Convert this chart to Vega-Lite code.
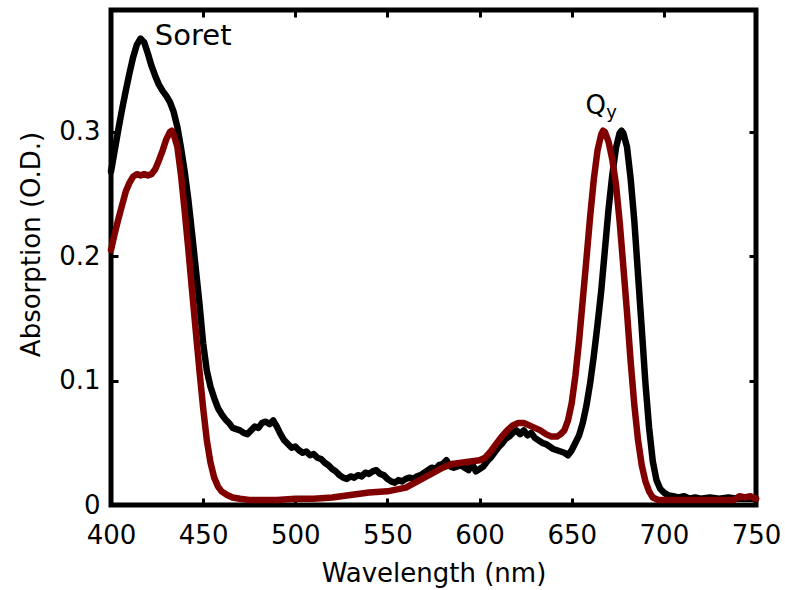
{
  "$schema": "https://vega.github.io/schema/vega-lite/v6.json",
  "width": 645,
  "height": 495,
  "autosize": {"type": "none"},
  "padding": {"left": 111, "top": 10, "right": 29, "bottom": 85},
  "background": "white",
  "config": {
    "view": {"stroke": "black", "strokeWidth": 5},
    "font": "DejaVu Sans",
    "axis": {"grid": false, "domain": false, "tickColor": "black", "tickWidth": 3, "tickSize": -7, "labelFlush": false, "labelOverlap": false,
             "labelFont": "DejaVu Sans", "labelFontSize": 26, "labelColor": "black",
             "titleFont": "DejaVu Sans", "titleFontSize": 26, "titleFontWeight": "normal", "titleColor": "black"}
  },
  "datasets": {
    "spectra": [
      {"nm":400,"abs":0.268,"s":"A"},{"nm":402,"abs":0.285,"s":"A"},{"nm":404,"abs":0.302,"s":"A"},{"nm":406,"abs":0.318,"s":"A"},{"nm":408,"abs":0.333,"s":"A"},{"nm":410,"abs":0.347,"s":"A"},{"nm":412,"abs":0.360,"s":"A"},{"nm":414,"abs":0.370,"s":"A"},{"nm":416,"abs":0.375,"s":"A"},{"nm":418,"abs":0.372,"s":"A"},{"nm":420,"abs":0.363,"s":"A"},{"nm":422,"abs":0.353,"s":"A"},{"nm":424,"abs":0.345,"s":"A"},{"nm":426,"abs":0.338,"s":"A"},{"nm":428,"abs":0.333,"s":"A"},{"nm":430,"abs":0.329,"s":"A"},{"nm":432,"abs":0.324,"s":"A"},{"nm":434,"abs":0.316,"s":"A"},{"nm":436,"abs":0.304,"s":"A"},{"nm":438,"abs":0.287,"s":"A"},{"nm":440,"abs":0.268,"s":"A"},{"nm":442,"abs":0.245,"s":"A"},{"nm":444,"abs":0.218,"s":"A"},{"nm":446,"abs":0.190,"s":"A"},{"nm":448,"abs":0.162,"s":"A"},{"nm":450,"abs":0.130,"s":"A"},{"nm":452,"abs":0.108,"s":"A"},{"nm":454,"abs":0.095,"s":"A"},{"nm":456,"abs":0.086,"s":"A"},{"nm":458,"abs":0.078,"s":"A"},{"nm":460,"abs":0.073,"s":"A"},{"nm":462,"abs":0.069,"s":"A"},{"nm":464,"abs":0.066,"s":"A"},{"nm":466,"abs":0.062,"s":"A"},{"nm":468,"abs":0.061,"s":"A"},{"nm":470,"abs":0.060,"s":"A"},{"nm":472,"abs":0.058,"s":"A"},{"nm":474,"abs":0.057,"s":"A"},{"nm":476,"abs":0.060,"s":"A"},{"nm":478,"abs":0.063,"s":"A"},{"nm":480,"abs":0.062,"s":"A"},{"nm":482,"abs":0.066,"s":"A"},{"nm":484,"abs":0.067,"s":"A"},{"nm":486,"abs":0.065,"s":"A"},{"nm":488,"abs":0.068,"s":"A"},{"nm":490,"abs":0.063,"s":"A"},{"nm":492,"abs":0.057,"s":"A"},{"nm":494,"abs":0.052,"s":"A"},{"nm":496,"abs":0.049,"s":"A"},{"nm":498,"abs":0.046,"s":"A"},{"nm":500,"abs":0.047,"s":"A"},{"nm":502,"abs":0.044,"s":"A"},{"nm":504,"abs":0.042,"s":"A"},{"nm":506,"abs":0.043,"s":"A"},{"nm":508,"abs":0.040,"s":"A"},{"nm":510,"abs":0.041,"s":"A"},{"nm":512,"abs":0.038,"s":"A"},{"nm":514,"abs":0.037,"s":"A"},{"nm":516,"abs":0.034,"s":"A"},{"nm":518,"abs":0.032,"s":"A"},{"nm":520,"abs":0.029,"s":"A"},{"nm":522,"abs":0.027,"s":"A"},{"nm":524,"abs":0.024,"s":"A"},{"nm":526,"abs":0.022,"s":"A"},{"nm":528,"abs":0.021,"s":"A"},{"nm":530,"abs":0.023,"s":"A"},{"nm":532,"abs":0.022,"s":"A"},{"nm":534,"abs":0.024,"s":"A"},{"nm":536,"abs":0.023,"s":"A"},{"nm":538,"abs":0.026,"s":"A"},{"nm":540,"abs":0.025,"s":"A"},{"nm":542,"abs":0.027,"s":"A"},{"nm":544,"abs":0.028,"s":"A"},{"nm":546,"abs":0.025,"s":"A"},{"nm":548,"abs":0.024,"s":"A"},{"nm":550,"abs":0.021,"s":"A"},{"nm":552,"abs":0.019,"s":"A"},{"nm":554,"abs":0.018,"s":"A"},{"nm":556,"abs":0.020,"s":"A"},{"nm":558,"abs":0.019,"s":"A"},{"nm":560,"abs":0.021,"s":"A"},{"nm":562,"abs":0.022,"s":"A"},{"nm":564,"abs":0.021,"s":"A"},{"nm":566,"abs":0.023,"s":"A"},{"nm":568,"abs":0.024,"s":"A"},{"nm":570,"abs":0.026,"s":"A"},{"nm":572,"abs":0.028,"s":"A"},{"nm":574,"abs":0.030,"s":"A"},{"nm":576,"abs":0.029,"s":"A"},{"nm":578,"abs":0.032,"s":"A"},{"nm":580,"abs":0.033,"s":"A"},{"nm":582,"abs":0.036,"s":"A"},{"nm":584,"abs":0.031,"s":"A"},{"nm":586,"abs":0.030,"s":"A"},{"nm":588,"abs":0.031,"s":"A"},{"nm":590,"abs":0.032,"s":"A"},{"nm":592,"abs":0.030,"s":"A"},{"nm":594,"abs":0.028,"s":"A"},{"nm":596,"abs":0.033,"s":"A"},{"nm":598,"abs":0.027,"s":"A"},{"nm":600,"abs":0.029,"s":"A"},{"nm":602,"abs":0.031,"s":"A"},{"nm":604,"abs":0.035,"s":"A"},{"nm":606,"abs":0.038,"s":"A"},{"nm":608,"abs":0.042,"s":"A"},{"nm":610,"abs":0.046,"s":"A"},{"nm":612,"abs":0.049,"s":"A"},{"nm":614,"abs":0.053,"s":"A"},{"nm":616,"abs":0.055,"s":"A"},{"nm":618,"abs":0.058,"s":"A"},{"nm":620,"abs":0.060,"s":"A"},{"nm":622,"abs":0.057,"s":"A"},{"nm":624,"abs":0.060,"s":"A"},{"nm":626,"abs":0.056,"s":"A"},{"nm":628,"abs":0.058,"s":"A"},{"nm":630,"abs":0.054,"s":"A"},{"nm":632,"abs":0.052,"s":"A"},{"nm":634,"abs":0.050,"s":"A"},{"nm":636,"abs":0.049,"s":"A"},{"nm":638,"abs":0.047,"s":"A"},{"nm":640,"abs":0.045,"s":"A"},{"nm":642,"abs":0.044,"s":"A"},{"nm":644,"abs":0.043,"s":"A"},{"nm":646,"abs":0.042,"s":"A"},{"nm":648,"abs":0.040,"s":"A"},{"nm":650,"abs":0.044,"s":"A"},{"nm":652,"abs":0.050,"s":"A"},{"nm":654,"abs":0.056,"s":"A"},{"nm":656,"abs":0.066,"s":"A"},{"nm":658,"abs":0.080,"s":"A"},{"nm":660,"abs":0.098,"s":"A"},{"nm":662,"abs":0.120,"s":"A"},{"nm":664,"abs":0.145,"s":"A"},{"nm":666,"abs":0.172,"s":"A"},{"nm":668,"abs":0.205,"s":"A"},{"nm":670,"abs":0.238,"s":"A"},{"nm":672,"abs":0.265,"s":"A"},{"nm":674,"abs":0.287,"s":"A"},{"nm":676,"abs":0.299,"s":"A"},{"nm":677,"abs":0.301,"s":"A"},{"nm":678,"abs":0.299,"s":"A"},{"nm":680,"abs":0.288,"s":"A"},{"nm":682,"abs":0.262,"s":"A"},{"nm":684,"abs":0.228,"s":"A"},{"nm":686,"abs":0.185,"s":"A"},{"nm":688,"abs":0.142,"s":"A"},{"nm":690,"abs":0.098,"s":"A"},{"nm":692,"abs":0.062,"s":"A"},{"nm":694,"abs":0.035,"s":"A"},{"nm":696,"abs":0.020,"s":"A"},{"nm":698,"abs":0.013,"s":"A"},{"nm":700,"abs":0.010,"s":"A"},{"nm":702,"abs":0.008,"s":"A"},{"nm":705,"abs":0.007,"s":"A"},{"nm":708,"abs":0.006,"s":"A"},{"nm":711,"abs":0.007,"s":"A"},{"nm":714,"abs":0.005,"s":"A"},{"nm":717,"abs":0.006,"s":"A"},{"nm":720,"abs":0.005,"s":"A"},{"nm":725,"abs":0.006,"s":"A"},{"nm":730,"abs":0.005,"s":"A"},{"nm":735,"abs":0.006,"s":"A"},{"nm":740,"abs":0.005,"s":"A"},{"nm":745,"abs":0.005,"s":"A"},{"nm":750,"abs":0.005,"s":"A"},
      {"nm":400,"abs":0.205,"s":"B"},{"nm":402,"abs":0.218,"s":"B"},{"nm":404,"abs":0.230,"s":"B"},{"nm":406,"abs":0.241,"s":"B"},{"nm":408,"abs":0.252,"s":"B"},{"nm":410,"abs":0.259,"s":"B"},{"nm":412,"abs":0.264,"s":"B"},{"nm":414,"abs":0.266,"s":"B"},{"nm":416,"abs":0.265,"s":"B"},{"nm":418,"abs":0.266,"s":"B"},{"nm":420,"abs":0.265,"s":"B"},{"nm":422,"abs":0.266,"s":"B"},{"nm":424,"abs":0.270,"s":"B"},{"nm":426,"abs":0.277,"s":"B"},{"nm":428,"abs":0.285,"s":"B"},{"nm":430,"abs":0.294,"s":"B"},{"nm":432,"abs":0.300,"s":"B"},{"nm":433,"abs":0.301,"s":"B"},{"nm":434,"abs":0.298,"s":"B"},{"nm":436,"abs":0.288,"s":"B"},{"nm":438,"abs":0.265,"s":"B"},{"nm":440,"abs":0.236,"s":"B"},{"nm":442,"abs":0.205,"s":"B"},{"nm":444,"abs":0.172,"s":"B"},{"nm":446,"abs":0.140,"s":"B"},{"nm":448,"abs":0.108,"s":"B"},{"nm":450,"abs":0.078,"s":"B"},{"nm":452,"abs":0.052,"s":"B"},{"nm":454,"abs":0.034,"s":"B"},{"nm":456,"abs":0.022,"s":"B"},{"nm":458,"abs":0.015,"s":"B"},{"nm":460,"abs":0.011,"s":"B"},{"nm":463,"abs":0.008,"s":"B"},{"nm":466,"abs":0.006,"s":"B"},{"nm":470,"abs":0.005,"s":"B"},{"nm":475,"abs":0.004,"s":"B"},{"nm":480,"abs":0.004,"s":"B"},{"nm":490,"abs":0.004,"s":"B"},{"nm":500,"abs":0.005,"s":"B"},{"nm":510,"abs":0.005,"s":"B"},{"nm":520,"abs":0.006,"s":"B"},{"nm":530,"abs":0.008,"s":"B"},{"nm":540,"abs":0.010,"s":"B"},{"nm":550,"abs":0.011,"s":"B"},{"nm":560,"abs":0.014,"s":"B"},{"nm":565,"abs":0.018,"s":"B"},{"nm":570,"abs":0.022,"s":"B"},{"nm":575,"abs":0.026,"s":"B"},{"nm":580,"abs":0.030,"s":"B"},{"nm":585,"abs":0.033,"s":"B"},{"nm":590,"abs":0.034,"s":"B"},{"nm":595,"abs":0.035,"s":"B"},{"nm":600,"abs":0.036,"s":"B"},{"nm":603,"abs":0.038,"s":"B"},{"nm":606,"abs":0.043,"s":"B"},{"nm":609,"abs":0.049,"s":"B"},{"nm":612,"abs":0.055,"s":"B"},{"nm":615,"abs":0.060,"s":"B"},{"nm":618,"abs":0.064,"s":"B"},{"nm":621,"abs":0.066,"s":"B"},{"nm":624,"abs":0.066,"s":"B"},{"nm":627,"abs":0.064,"s":"B"},{"nm":630,"abs":0.062,"s":"B"},{"nm":633,"abs":0.060,"s":"B"},{"nm":636,"abs":0.057,"s":"B"},{"nm":639,"abs":0.055,"s":"B"},{"nm":642,"abs":0.055,"s":"B"},{"nm":644,"abs":0.057,"s":"B"},{"nm":646,"abs":0.060,"s":"B"},{"nm":648,"abs":0.068,"s":"B"},{"nm":650,"abs":0.082,"s":"B"},{"nm":652,"abs":0.104,"s":"B"},{"nm":654,"abs":0.132,"s":"B"},{"nm":656,"abs":0.165,"s":"B"},{"nm":658,"abs":0.198,"s":"B"},{"nm":660,"abs":0.232,"s":"B"},{"nm":662,"abs":0.262,"s":"B"},{"nm":664,"abs":0.285,"s":"B"},{"nm":666,"abs":0.298,"s":"B"},{"nm":667,"abs":0.301,"s":"B"},{"nm":668,"abs":0.300,"s":"B"},{"nm":670,"abs":0.292,"s":"B"},{"nm":672,"abs":0.278,"s":"B"},{"nm":674,"abs":0.258,"s":"B"},{"nm":676,"abs":0.228,"s":"B"},{"nm":678,"abs":0.192,"s":"B"},{"nm":680,"abs":0.155,"s":"B"},{"nm":682,"abs":0.115,"s":"B"},{"nm":684,"abs":0.080,"s":"B"},{"nm":686,"abs":0.052,"s":"B"},{"nm":688,"abs":0.032,"s":"B"},{"nm":690,"abs":0.019,"s":"B"},{"nm":692,"abs":0.011,"s":"B"},{"nm":694,"abs":0.006,"s":"B"},{"nm":697,"abs":0.004,"s":"B"},{"nm":700,"abs":0.004,"s":"B"},{"nm":710,"abs":0.004,"s":"B"},{"nm":720,"abs":0.004,"s":"B"},{"nm":730,"abs":0.004,"s":"B"},{"nm":738,"abs":0.004,"s":"B"},{"nm":741,"abs":0.007,"s":"B"},{"nm":744,"abs":0.006,"s":"B"},{"nm":747,"abs":0.007,"s":"B"},{"nm":750,"abs":0.005,"s":"B"}
    ],
    "labels": [
      {"nm":423.8,"abs":0.370,"text":"Soret","size":29},
      {"nm":657.5,"abs":0.314,"text":"Q","size":26},
      {"nm":668.8,"abs":0.311,"text":"y","size":18}
    ]
  },
  "resolve": {"scale": {"x": "independent", "y": "independent"}},
  "layer": [
    {
      "data": {"name": "spectra"},
      "mark": {"type": "line", "strokeWidth": 6.5, "strokeJoin": "round", "strokeCap": "round"},
      "encoding": {
        "x": {"field": "nm", "type": "quantitative", "scale": {"domain": [400, 750], "nice": false, "zero": false},
              "axis": {"orient": "bottom", "values": [400,450,500,550,600,650,700,750], "title": "Wavelength (nm)", "labelPadding": 24, "titlePadding": 12}},
        "y": {"field": "abs", "type": "quantitative", "scale": {"domain": [0, 0.398], "nice": false},
              "axis": {"orient": "left", "values": [0, 0.1, 0.2, 0.3], "labelExpr": "datum.value == 0 ? '0' : format(datum.value, '.1f')", "title": "Absorption (O.D.)", "titleFontSize": 26, "titleY": 234, "labelPadding": 18, "titlePadding": 14}},
        "color": {"field": "s", "type": "nominal", "scale": {"domain": ["A", "B"], "range": ["#000000", "#800000"]}, "legend": null}
      }
    },
    {
      "data": {"name": "spectra"},
      "mark": {"type": "point", "opacity": 0},
      "encoding": {
        "x": {"field": "nm", "type": "quantitative", "scale": {"domain": [400, 750], "nice": false, "zero": false},
              "axis": {"orient": "top", "values": [400,450,500,550,600,650,700,750], "labels": false, "title": null}},
        "y": {"field": "abs", "type": "quantitative", "scale": {"domain": [0, 0.398], "nice": false},
              "axis": {"orient": "right", "values": [0, 0.1, 0.2, 0.3], "labels": false, "title": null}}
      }
    },
    {
      "data": {"name": "labels"},
      "mark": {"type": "text", "align": "left", "baseline": "alphabetic", "font": "DejaVu Sans", "color": "black"},
      "encoding": {
        "x": {"field": "nm", "type": "quantitative", "scale": {"domain": [400, 750], "nice": false, "zero": false}, "axis": null},
        "y": {"field": "abs", "type": "quantitative", "scale": {"domain": [0, 0.398], "nice": false}, "axis": null},
        "text": {"field": "text"},
        "size": {"field": "size", "type": "quantitative", "scale": null}
      }
    }
  ]
}
